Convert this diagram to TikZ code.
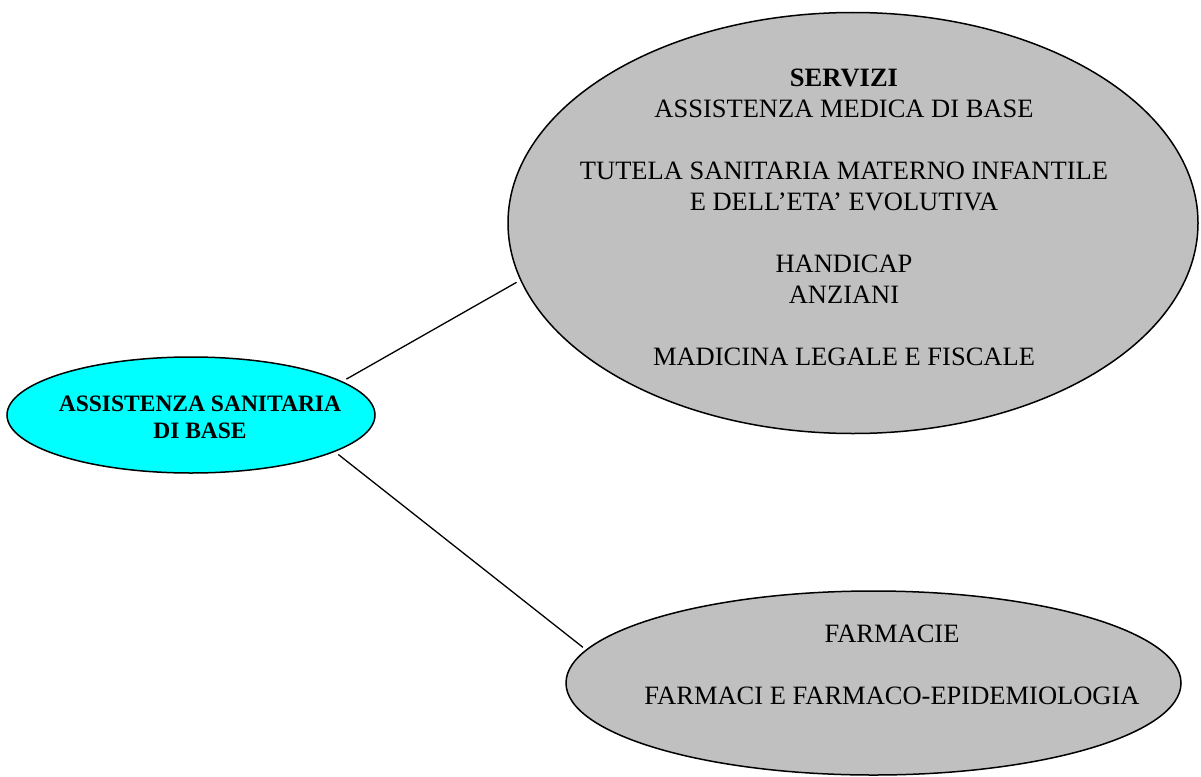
\documentclass[tikz,border=0pt]{standalone}
\usepackage{fontspec}
\setmainfont{Liberation Serif}
\usepackage{tikz}
\usetikzlibrary{shapes.geometric}
\definecolor{argento}{HTML}{C0C0C0}
\definecolor{ciano}{HTML}{00FFFF}

\begin{document}
\begin{tikzpicture}[x=1pt,y=-1pt,
	bolla/.style={ellipse,draw,line width=1.5pt,inner sep=0pt,outer sep=5pt},
	testo/.style={align=center,inner sep=0pt,font=\fontsize{26.5}{31}\selectfont}]
	\useasboundingbox (0,0) rectangle (1201,776);
	\node[bolla,fill=ciano,minimum width=368pt,minimum height=116pt] at (191,415) (base) {};
	\node[bolla,fill=argento,minimum width=690pt,minimum height=421pt] at (853,223) (servizi) {};
	\node[bolla,fill=argento,minimum width=615pt,minimum height=184pt] at (873.5,683) (farmacie) {};
	\node[testo,font=\fontsize{23.5}{27}\selectfont\bfseries] at (200,417.5) (tbase) {ASSISTENZA SANITARIA\\DI BASE};
	\node[testo] at (844,217) (tservizi) {\textbf{SERVIZI}\\ASSISTENZA MEDICA DI BASE\\[31pt]TUTELA SANITARIA MATERNO INFANTILE\\E DELL’ETA’ EVOLUTIVA\\[31pt]HANDICAP\\ANZIANI\\[31pt]MADICINA LEGALE E FISCALE};
	\node[testo] at (892,664.5) (tfarmacie) {FARMACIE\\[31pt]FARMACI E FARMACO-EPIDEMIOLOGIA};
	\path[line width=1.3pt] (base.13) edge (servizi.190);
	\path[line width=1.3pt] (base.-15) edge (farmacie.173);
\end{tikzpicture}
\end{document}
